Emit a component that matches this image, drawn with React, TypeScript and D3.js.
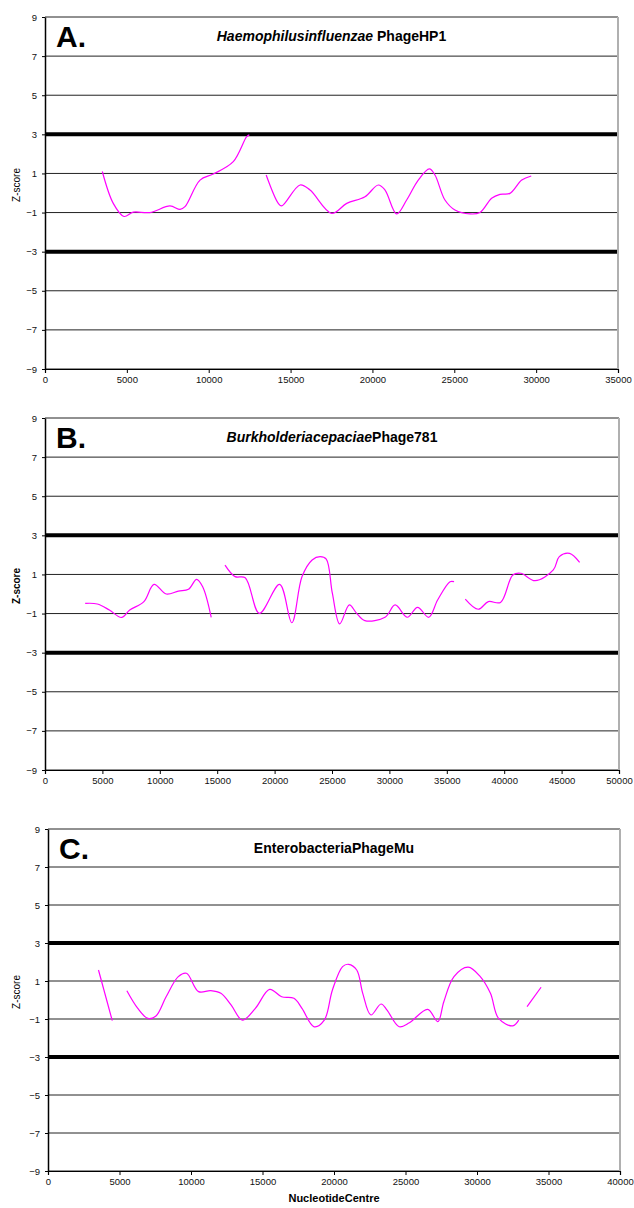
import React, { useEffect, useRef } from 'react'
import * as d3 from 'd3'

// z-score gridline values shared by all three panels
const yTicks = [-9, -7, -5, -3, -1, 1, 3, 5, 7, 9]
const thresholds = [3, -3]

const xTicksA = [0, 5000, 10000, 15000, 20000, 25000, 30000, 35000]
const xTicksB = [0, 5000, 10000, 15000, 20000, 25000, 30000, 35000, 40000, 45000, 50000]
const xTicksC = [0, 5000, 10000, 15000, 20000, 25000, 30000, 35000, 40000]

// [nucleotide centre, z-score], one array per unbroken piece of the curve
const hp1Segments: [number, number][][] = [
  [[3500, 1.1], [4170, -0.53], [4825, -1.2], [5390, -0.98], [6410, -1.0], [7635, -0.66], [8250, -0.84],
   [8550, -0.7], [9470, 0.66], [10280, 0.97], [11500, 1.6], [12320, 2.88], [12480, 2.97]],
  [[13510, 0.92], [14250, -0.53], [14460, -0.66], [15580, 0.41], [16190, 0.15], [17510, -1.04], [18430, -0.53],
   [19545, -0.19], [20360, 0.41], [20770, 0.15], [21480, -1.07], [22090, -0.36], [22800, 0.66], [23480, 1.23],
   [23820, 0.92], [24430, -0.36], [25040, -0.87], [25960, -1.07], [26570, -1.0], [27280, -0.27], [27790, -0.07],
   [28400, -0.02], [29120, 0.66], [29700, 0.87]],
]

const phage781Segments: [number, number][][] = [
  [[3500, -0.48], [4555, -0.51], [5610, -0.82], [6670, -1.2], [7380, -0.82], [8615, -0.39], [9495, 0.49],
   [10560, 0.0], [11620, 0.15], [12500, 0.24], [13205, 0.75], [13735, 0.37], [14480, -1.2]],
  [[15680, 1.48], [16560, 0.89], [17440, 0.83], [18675, -0.99], [20440, 0.49], [21500, -1.47], [22390, 0.89],
   [23270, 1.74], [23970, 1.91], [24500, 1.78], [25030, 0.04], [25670, -1.53], [26510, -0.56], [27150, -0.99],
   [27860, -1.36], [29620, -1.19], [30500, -0.56], [31560, -1.19], [32450, -0.68], [33430, -1.19],
   [34200, -0.31], [35280, 0.63], [35630, 0.63]],
  [[36610, -0.26], [37740, -0.78], [38620, -0.39], [39680, -0.43], [40750, 0.97], [41450, 1.06], [42690, 0.68],
   [44280, 1.23], [44800, 1.91], [45690, 2.08], [46570, 1.62]],
]

const muSegments: [number, number][][] = [
  [[3530, 1.58], [4495, -1.09]],
  [[5515, 0.49], [6280, -0.44], [6990, -0.97], [7550, -0.84], [8260, 0.17], [9110, 1.23], [9680, 1.41],
   [10530, 0.44], [11380, 0.49], [12090, 0.35], [12800, -0.26], [13590, -1.06], [14500, -0.44], [15500, 0.56],
   [16340, 0.17], [17200, 0.09], [17760, -0.44], [18610, -1.41], [19320, -1.06], [19890, 0.53], [20600, 1.76],
   [21020, 1.88], [21590, 1.58], [22010, 0.35], [22580, -0.79], [23290, -0.21], [23710, -0.53], [24560, -1.41],
   [25270, -1.2], [26550, -0.49], [27260, -1.14], [27680, -0.09], [28390, 1.23], [29380, 1.73], [30230, 1.23],
   [30940, 0.35], [31510, -0.97], [32500, -1.36], [32920, -1.06]],
  [[33500, -0.35], [34480, 0.67]],
]

const font = 'Liberation Sans, Arial, sans-serif'

type PanelProps = {
  letter: string
  italicTitle: string
  plainTitle: string
  segments: [number, number][][]
  xTicks: number[]
  left: number
  right: number
  top: number
  bottom: number
  boldYLabel?: boolean
  xTitle?: string
}

function Panel(p: PanelProps) {
  const gx = useRef<SVGGElement>(null)
  const gy = useRef<SVGGElement>(null)
  const xMax = p.xTicks[p.xTicks.length - 1]
  const x = d3.scaleLinear().domain([0, xMax]).range([p.left, p.right])
  const y = d3.scaleLinear().domain([-9, 9]).range([p.bottom, p.top])

  useEffect(() => {
    const ax = d3.select(gx.current!)
    ax.selectAll('*').remove()
    ax.call(d3.axisBottom(x).tickValues(p.xTicks).tickSize(4).tickPadding(3).tickFormat(d3.format('d')))
    ax.select('.domain').attr('stroke', '#000').attr('stroke-width', 1.2)
    ax.selectAll('text').attr('font-family', font).attr('font-size', 9.5).attr('fill', '#111')

    const ay = d3.select(gy.current!)
    ay.selectAll('*').remove()
    ay.call(d3.axisLeft(y).tickValues(yTicks).tickSize(3).tickPadding(5).tickSizeOuter(0))
    ay.select('.domain').attr('stroke', '#000').attr('stroke-width', 1.5)
    ay.selectAll('text').attr('font-family', font).attr('font-size', 9.5).attr('fill', '#111')
  })

  const line = d3.line<[number, number]>()
    .x(d => x(d[0]))
    .y(d => y(d[1]))
    .curve(d3.curveCatmullRom)

  const midY = (p.top + p.bottom) / 2
  const midX = (p.left + p.right) / 2

  return (
    <g>
      {yTicks.map(t => (
        <line key={t} x1={p.left} x2={p.right} y1={y(t)} y2={y(t)} stroke="#222" strokeWidth={1} />
      ))}
      {thresholds.map(t => (
        <line key={'t' + t} x1={p.left} x2={p.right} y1={y(t)} y2={y(t)} stroke="#000" strokeWidth={4} />
      ))}
      <line x1={p.right} x2={p.right} y1={p.top} y2={p.bottom} stroke="#b0b0b0" strokeWidth={2} />
      {p.segments.map((s, i) => (
        <path key={i} d={line(s) || ''} fill="none" stroke="#ff00ff" strokeWidth={1.2} />
      ))}
      <g ref={gx} transform={`translate(0,${p.bottom})`} />
      <g ref={gy} transform={`translate(${p.left},0)`} />
      <text x={p.left + 11} y={p.top + 30} fontFamily={font} fontWeight="bold" fontSize={30}>{p.letter}</text>
      <text x={midX} y={p.top + 24} textAnchor="middle" fontFamily={font} fontWeight="bold" fontSize={14}>
        <tspan fontStyle="italic">{p.italicTitle}</tspan>
        {p.plainTitle}
      </text>
      <text transform={`translate(20,${midY - 8}) rotate(-90)`} textAnchor="middle" fontFamily={font}
        fontSize={10} fontWeight={p.boldYLabel ? 'bold' : 'normal'}>Z-score</text>
      {p.xTitle && (
        <text x={midX} y={p.bottom + 31} textAnchor="middle" fontFamily={font} fontWeight="bold" fontSize={11}>{p.xTitle}</text>
      )}
    </g>
  )
}

export default function App() {
  return (
    <svg width={634} height={1208} style={{ position: 'absolute', left: 0, top: 0, background: '#fff' }}>
      <Panel letter="A." italicTitle="Haemophilusinfluenzae" plainTitle=" PhageHP1" segments={hp1Segments}
        xTicks={xTicksA} left={45} right={618} top={17} bottom={369} />
      <Panel letter="B." italicTitle="Burkholderiacepaciae" plainTitle="Phage781" segments={phage781Segments}
        xTicks={xTicksB} left={45} right={619} top={418} bottom={770} boldYLabel />
      <Panel letter="C." italicTitle="" plainTitle="EnterobacteriaPhageMu" segments={muSegments}
        xTicks={xTicksC} left={48} right={620} top={829} bottom={1171} xTitle="NucleotideCentre" />
    </svg>
  )
}
